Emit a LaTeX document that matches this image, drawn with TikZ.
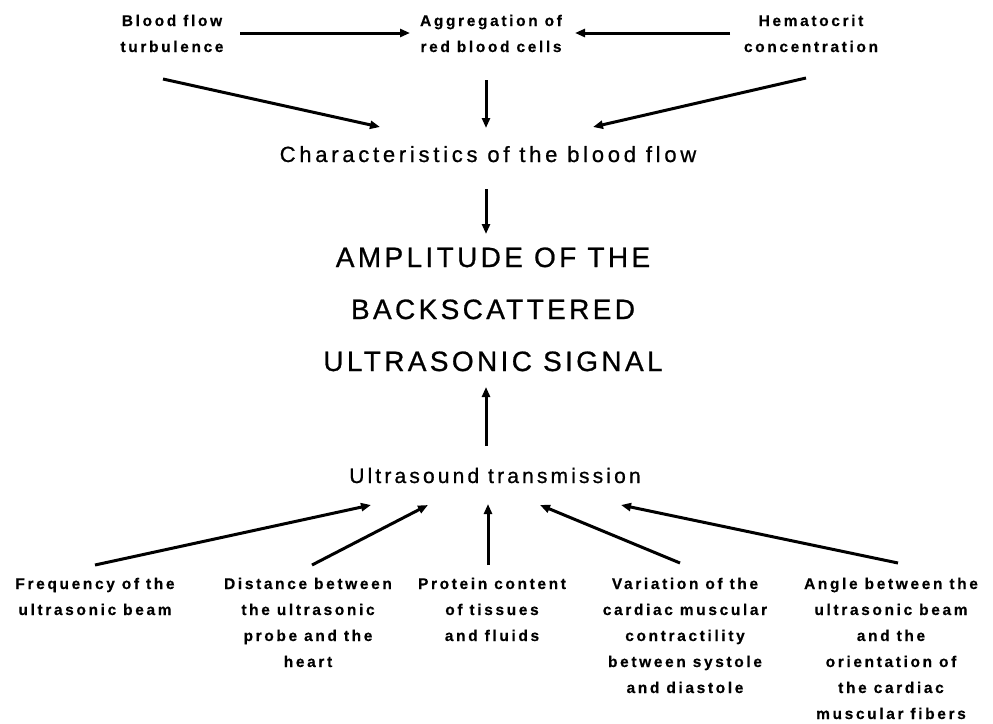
\documentclass[tikz,border=0pt]{standalone}
\usepackage{fontspec}
\setmainfont{Liberation Sans}
\newfontfamily\labfont[LetterSpace=17,FakeBold=0.4]{Liberation Sans Bold}
\newfontfamily\midfont[LetterSpace=17,FakeBold=0.8]{Liberation Sans}
\newfontfamily\usfont[LetterSpace=15,FakeBold=0.8]{Liberation Sans}
\newfontfamily\bigfont[LetterSpace=12,FakeBold=0.8]{Liberation Sans}
\usetikzlibrary{arrows.meta}
\begin{document}
\begin{tikzpicture}[x=1pt,y=-1pt,
  lab/.style={anchor=base,align=center,inner sep=0pt,font=\labfont\fontsize{15.5}{26}\selectfont},
  mid/.style={anchor=base,align=center,inner sep=0pt,font=\midfont\fontsize{22}{26}\selectfont},
  usl/.style={anchor=base,align=center,inner sep=0pt,font=\usfont\fontsize{21}{26}\selectfont},
  big/.style={anchor=base,align=center,inner sep=0pt,font=\bigfont\fontsize{28}{52}\selectfont},
  arr/.style={line width=3pt,-{Triangle[length=10pt,width=8pt]}}]
\useasboundingbox (0,0) rectangle (993,723);
% top row (anchor = baseline of last line)
\node[lab] (bf) at (172,52) {Blood flow\\turbulence};
\node[lab] (ag) at (491,52) {Aggregation of\\red blood cells};
\node[lab] (ht) at (811,52) {Hematocrit\\concentration};
\node[mid] (ch) at (488,162) {Characteristics of the blood flow};
\node[big] (am) at (493,371) {AMPLITUDE OF THE\\BACKSCATTERED\\ULTRASONIC SIGNAL};
\node[usl] (us) at (495,483) {Ultrasound transmission};
% bottom row
\node[lab] (fr) at (95,615) {Frequency of the\\ultrasonic beam};
\node[lab] (di) at (308,667) {Distance between\\the ultrasonic\\probe and the\\heart};
\node[lab] (pr) at (492,641) {Protein content\\of tissues\\and fluids};
\node[lab] (va) at (685,693) {Variation of the\\cardiac muscular\\contractility\\between systole\\and diastole};
\node[lab] (an) at (891,719) {Angle between the\\ultrasonic beam\\and the\\orientation of\\the cardiac\\muscular fibers};
% connector end points
\coordinate (bfA) at (240,33);  \coordinate (agL) at (410,33);
\coordinate (htA) at (730,33);  \coordinate (agR) at (575,33);
\coordinate (bfB) at (163,79);  \coordinate (chL) at (380,127);
\coordinate (agB) at (486,80);  \coordinate (chT) at (486,128);
\coordinate (htB) at (806,78);  \coordinate (chR) at (593,127);
\coordinate (chB) at (486,189); \coordinate (amT) at (486,234);
\coordinate (usT) at (486,446); \coordinate (amB) at (486,387);
\coordinate (frT) at (95,565);  \coordinate (us1) at (371,505);
\coordinate (diT) at (312,565); \coordinate (us2) at (428,505);
\coordinate (prT) at (488,565); \coordinate (us3) at (488,504);
\coordinate (vaT) at (680,563); \coordinate (us4) at (540,505);
\coordinate (anT) at (898,563); \coordinate (us5) at (621,505);
\draw[arr] (bfA) -- (agL);
\draw[arr] (htA) -- (agR);
\draw[arr] (bfB) -- (chL);
\draw[arr] (agB) -- (chT);
\draw[arr] (htB) -- (chR);
\draw[arr] (chB) -- (amT);
\draw[arr] (usT) -- (amB);
\draw[arr] (frT) -- (us1);
\draw[arr] (diT) -- (us2);
\draw[arr] (prT) -- (us3);
\draw[arr] (vaT) -- (us4);
\draw[arr] (anT) -- (us5);
\end{tikzpicture}
\end{document}
